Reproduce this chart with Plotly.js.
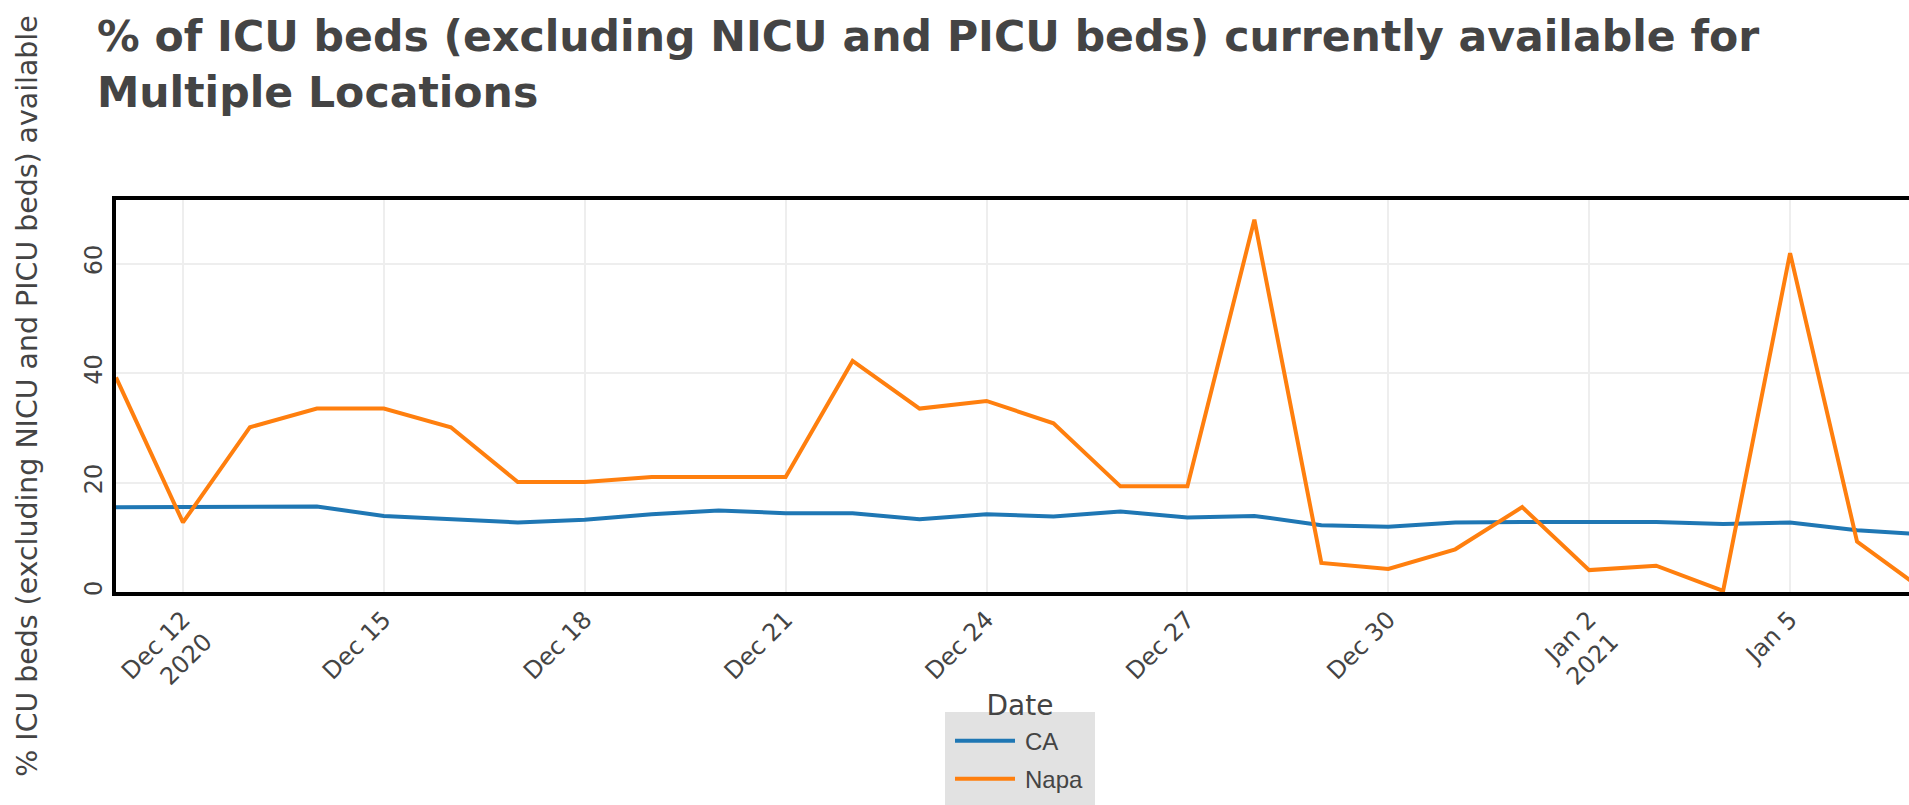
<!DOCTYPE html>
<html>
<head>
<meta charset="utf-8">
<script src="https://cdn.plot.ly/plotly-3.0.1.min.js"></script>
<style>
  html, body { margin: 0; padding: 0; background: #fff; }
  #frame { position: absolute; left: 0; top: 0; width: 1909px; height: 805px; overflow: hidden; }
  #chart { position: absolute; left: 0; top: 0; width: 975px; height: 430px; transform: scale(2); transform-origin: 0 0; }
</style>
</head>
<body>
<div id="frame"><div id="chart"></div></div>
<script>
const dates = ['2020-12-11','2020-12-12','2020-12-13','2020-12-14','2020-12-15','2020-12-16','2020-12-17',
  '2020-12-18','2020-12-19','2020-12-20','2020-12-21','2020-12-22','2020-12-23','2020-12-24','2020-12-25',
  '2020-12-26','2020-12-27','2020-12-28','2020-12-29','2020-12-30','2020-12-31','2021-01-01','2021-01-02',
  '2021-01-03','2021-01-04','2021-01-05','2021-01-06','2021-01-07'];
const caValues = [15.5, 15.5, 15.5, 15.6, 13.9, 13.3, 12.7, 13.2, 14.2, 14.9, 14.4, 14.4, 13.3, 14.2,
  13.8, 14.7, 13.6, 13.9, 12.2, 11.9, 12.7, 12.8, 12.8, 12.8, 12.4, 12.7, 11.3, 10.5];
const napaValues = [39.2, 12.7, 30.1, 33.5, 33.5, 30.1, 20.1, 20.1, 21.0, 21.0, 21.0, 42.2, 33.5, 34.9,
  30.8, 19.3, 19.3, 68.0, 5.3, 4.2, 7.8, 15.5, 4.0, 4.8, 0.2, 61.9, 9.2, 0.3];
const seriesNames = ['CA', 'Napa'];
const seriesColors = ['#1f77b4', '#ff7f0e'];
const titleText = '% of ICU beds (excluding NICU and PICU beds) currently available for<br>Multiple Locations';
const yTitle = '% ICU beds (excluding NICU and PICU beds) available';
const xTitle = 'Date';

const traces = [caValues, napaValues].map((vals, i) => ({
  type: 'scatter', mode: 'lines', x: dates, y: vals, name: seriesNames[i],
  line: {color: seriesColors[i], width: 2}
}));

const layout = {
  width: 975, height: 430,
  margin: {l: 58, r: 13, t: 100, b: 134, pad: 0},
  paper_bgcolor: '#fff', plot_bgcolor: '#fff',
  font: {family: 'DejaVu Sans', size: 12, color: '#444'},
  title: {
    text: titleText,
    font: {family: 'DejaVu Sans', size: 21.3, weight: 'bold', color: '#444'},
    xref: 'container', x: 0.0497, xanchor: 'left',
    yref: 'container', y: 0.9405, yanchor: 'top'
  },
  xaxis: {
    type: 'date',
    range: ['2020-12-11', '2021-01-07'],
    tick0: '2020-12-12', dtick: 3 * 86400000,
    tickangle: -45,
    tickfont: {family: 'DejaVu Sans', size: 12, color: '#444'},
    showgrid: true, gridcolor: '#eee', gridwidth: 1,
    showline: true, linecolor: '#000', linewidth: 2, mirror: true,
    zeroline: false, ticks: '',
    title: {text: xTitle, font: {family: 'DejaVu Sans', size: 14, color: '#444'}}
  },
  yaxis: {
    range: [0, 71.6],
    dtick: 20, tick0: 0,
    tickangle: -90,
    tickfont: {family: 'DejaVu Sans', size: 12, color: '#444'},
    showgrid: true, gridcolor: '#eee', gridwidth: 1,
    showline: true, linecolor: '#000', linewidth: 2, mirror: true,
    zeroline: false, ticks: '',
    title: {text: yTitle, font: {family: 'DejaVu Sans', size: 14.2, color: '#444'}}
  },
  showlegend: true,
  legend: {
    x: 0.5, xanchor: 'center', y: -0.3054, yanchor: 'top',
    bgcolor: '#e2e2e2',
    font: {family: 'Liberation Sans', size: 12, color: '#444'}
  }
};

Plotly.newPlot('chart', traces, layout, {displayModeBar: false, responsive: false});
</script>
</body>
</html>
